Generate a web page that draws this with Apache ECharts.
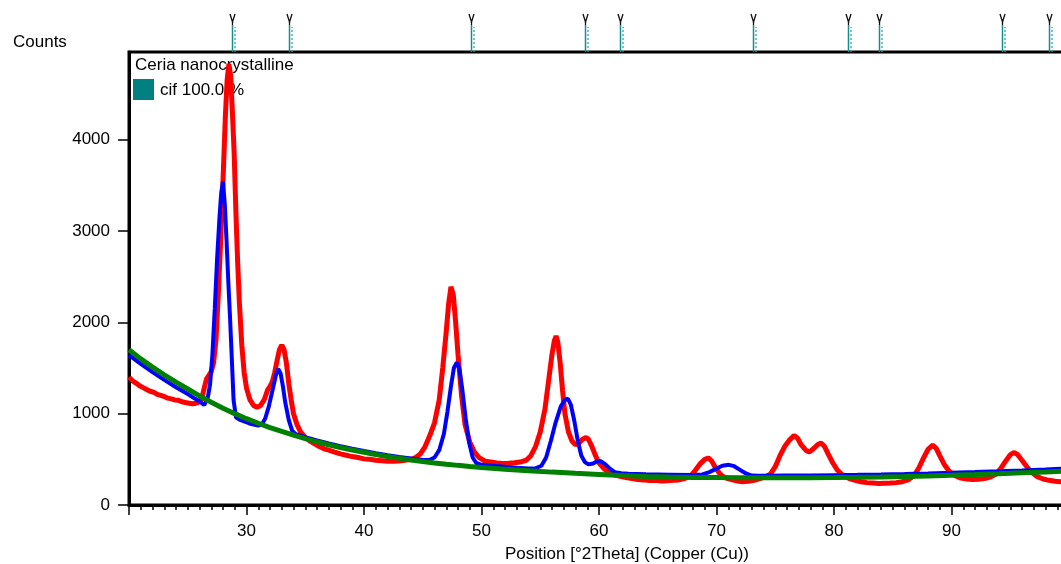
<!DOCTYPE html>
<html>
<head>
<meta charset="utf-8">
<script src="https://cdn.jsdelivr.net/npm/echarts@6/dist/echarts.min.js"></script>
<style>
html,body{margin:0;padding:0;background:#fff;}
#chart{width:1061px;height:564px;}
</style>
</head>
<body>
<div id="chart"></div>
<script>
// ---- data (2Theta, counts) ----
const observed = [
[20.0,1400],[20.3,1360],[20.6,1335],[20.9,1305],[21.2,1285],[21.5,1265],[21.8,1245],[22.1,1235],[22.4,1212],[22.7,1200],[23.0,1188],[23.3,1170],[23.6,1162],[23.9,1150],[24.2,1146],[24.5,1130],[24.8,1122],[25.1,1115],[25.4,1108],[25.7,1115],[26.0,1130],[26.2,1170],[26.4,1280],[26.6,1380],[26.8,1420],[27.0,1460],[27.2,1560],[27.4,1800],[27.6,2300],[27.8,2900],[28.0,3550],[28.2,4250],[28.35,4650],[28.5,4830],[28.65,4700],[28.8,4300],[28.95,3850],[29.1,3200],[29.25,2650],[29.4,2200],[29.6,1750],[29.8,1450],[30.0,1280],[30.3,1150],[30.6,1090],[30.9,1070],[31.2,1090],[31.5,1150],[31.8,1260],[32.0,1300],[32.2,1350],[32.4,1450],[32.6,1580],[32.8,1700],[33.0,1750],[33.2,1700],[33.4,1550],[33.6,1330],[33.8,1150],[34.0,1000],[34.3,880],[34.6,800],[35.0,740],[35.4,700],[35.8,670],[36.2,640],[36.6,615],[37.0,600],[37.5,580],[38.0,560],[38.5,545],[39.0,530],[39.5,520],[40.0,505],[40.5,500],[41.0,490],[41.5,485],[42.0,480],[42.5,478],[43.0,482],[43.5,490],[44.0,500],[44.4,520],[44.8,560],[45.2,640],[45.6,760],[46.0,900],[46.4,1150],[46.7,1500],[47.0,1900],[47.2,2200],[47.4,2390],[47.6,2300],[47.8,2000],[48.0,1650],[48.3,1200],[48.6,880],[49.0,690],[49.4,580],[49.8,520],[50.3,480],[50.8,470],[51.3,460],[51.8,455],[52.3,458],[52.8,462],[53.3,470],[53.8,490],[54.2,540],[54.6,640],[55.0,800],[55.4,1050],[55.7,1350],[56.0,1650],[56.2,1800],[56.35,1850],[56.5,1780],[56.7,1550],[56.9,1250],[57.1,1000],[57.4,800],[57.7,700],[58.0,660],[58.3,680],[58.6,720],[58.9,740],[59.1,720],[59.4,640],[59.7,540],[60.0,460],[60.4,400],[60.8,360],[61.3,330],[61.8,315],[62.3,300],[62.8,290],[63.3,280],[63.8,275],[64.3,268],[64.8,270],[65.3,262],[65.8,265],[66.3,270],[66.8,275],[67.3,290],[67.8,320],[68.2,380],[68.6,450],[69.0,500],[69.3,515],[69.6,480],[69.9,410],[70.3,340],[70.7,300],[71.2,280],[71.7,265],[72.2,255],[72.7,260],[73.2,270],[73.7,290],[74.2,310],[74.6,340],[75.0,420],[75.4,540],[75.8,640],[76.2,710],[76.6,760],[76.9,730],[77.2,660],[77.6,600],[77.9,580],[78.2,610],[78.6,660],[78.9,680],[79.2,640],[79.5,560],[79.9,460],[80.3,380],[80.8,320],[81.3,290],[81.8,270],[82.3,255],[82.8,245],[83.3,240],[83.8,235],[84.3,238],[84.8,240],[85.3,245],[85.8,255],[86.3,275],[86.8,320],[87.2,400],[87.6,510],[88.0,610],[88.4,655],[88.7,620],[89.0,540],[89.4,440],[89.8,370],[90.3,320],[90.8,295],[91.3,285],[91.8,280],[92.3,282],[92.8,290],[93.3,305],[93.8,340],[94.2,400],[94.6,480],[95.0,550],[95.3,575],[95.6,555],[96.0,490],[96.4,420],[96.8,360],[97.3,310],[97.8,285],[98.3,270],[98.8,260],[99.3,255],[100.0,250]
];
const calculated = [
[20.0,1640],[21.0,1545],[22.0,1455],[23.0,1370],[24.0,1290],[25.0,1215],[25.6,1165],[26.0,1135],[26.4,1095],[26.7,1170],[26.9,1320],[27.1,1650],[27.3,2150],[27.5,2700],[27.7,3150],[27.85,3420],[28.0,3540],[28.15,3300],[28.3,2900],[28.45,2450],[28.6,2050],[28.75,1600],[28.9,1150],[29.1,960],[29.4,935],[29.8,915],[30.2,895],[30.6,880],[31.0,870],[31.3,880],[31.6,950],[31.9,1080],[32.2,1250],[32.5,1420],[32.7,1490],[32.9,1440],[33.1,1300],[33.3,1120],[33.6,930],[33.9,810],[34.2,775],[35.0,742],[36.0,707],[37.0,675],[38.0,645],[39.0,617],[40.0,592],[41.0,568],[42.0,546],[43.0,526],[44.0,508],[45.0,492],[45.6,495],[46.0,520],[46.4,600],[46.8,780],[47.1,1020],[47.4,1300],[47.65,1500],[47.9,1560],[48.1,1500],[48.35,1280],[48.65,950],[48.95,680],[49.25,520],[49.55,460],[50.0,440],[51.0,430],[52.0,418],[53.0,408],[54.0,400],[54.6,402],[55.1,430],[55.5,520],[55.9,700],[56.3,900],[56.75,1080],[57.1,1150],[57.35,1165],[57.6,1100],[57.9,920],[58.2,700],[58.5,540],[58.8,470],[59.1,445],[59.5,455],[59.85,480],[60.15,480],[60.55,445],[60.95,395],[61.35,360],[61.9,348],[62.5,342],[64.0,336],[66.0,332],[68.0,328],[68.8,335],[69.4,360],[70.0,400],[70.5,430],[71.05,440],[71.5,425],[72.0,385],[72.5,345],[73.0,322],[73.6,320],[76.0,322],[78.0,324],[80.0,327],[82.0,330],[84.0,334],[86.0,339],[88.0,345],[90.0,352],[92.0,360],[94.0,369],[96.0,379],[98.0,390],[100.0,402]
];
const background = [
[20,1700],[21,1600],[22,1510],[23,1425],[24,1345],[25,1270],[26,1195],[27,1125],[28,1060],[29,1000],[30,945],[31,895],[32,848],[33,805],[34,765],[35,727],[36,692],[37,660],[38,630],[39,602],[40,577],[41,553],[42,531],[43,511],[44,493],[45,476],[46,461],[47,447],[48,434],[49,422],[50,411],[52,392],[54,376],[56,360],[58,347],[60,335],[62,322],[64,313],[66,306],[68,302],[70,300],[72,298],[74,297],[76,297],[78,298],[80,300],[82,303],[84,307],[86,312],[88,318],[90,325],[92,333],[94,342],[96,352],[98,362],[100,373]
];
const refPeaks = [28.8, 33.65, 49.1, 58.85, 61.82, 73.1, 81.2, 83.85, 94.3, 98.3];
const yTicks = [0, 1000, 2000, 3000, 4000];
const phaseName = 'Ceria nanocrystalline';
const phaseLabel = 'cif 100.0 %';

const FONT = '"Liberation Sans", Arial, sans-serif';
const chart = echarts.init(document.getElementById('chart'), null, {renderer: 'canvas'});

function markerItem(params, api) {
  const p = api.coord([api.value(0), 0]);
  const x = Math.round(p[0]) + 0.5, y = p[1];
  const teal = '#138c8c';
  return {
    type: 'group',
    children: [
      {type: 'line', shape: {x1: x, y1: y, x2: x, y2: y - 27}, style: {stroke: teal, lineWidth: 1.5}},
      {type: 'line', shape: {x1: x + 2.5, y1: y, x2: x + 2.5, y2: y - 25}, style: {stroke: '#2aa5a5', lineWidth: 1.3, lineDash: [2, 2]}},
      {type: 'polyline', shape: {points: [[x - 2.5, y - 38], [x, y - 30], [x + 2.5, y - 38]]}, style: {stroke: '#111', lineWidth: 1.3, fill: null}},
      {type: 'line', shape: {x1: x, y1: y - 30, x2: x, y2: y - 27}, style: {stroke: '#111', lineWidth: 1.3}}
    ]
  };
}

const option = {
  animation: false,
  backgroundColor: '#fff',
  grid: [
    {left: 129, width: 940, top: 52, bottom: 59, outerBoundsMode: 'none', containLabel: false, show: true, borderColor: '#000', borderWidth: 3},
    {left: 129, width: 940, top: 10, height: 42, outerBoundsMode: 'none', containLabel: false}
  ],
  xAxis: [
    {
      type: 'value', gridIndex: 0, min: 20, max: 100, interval: 10,
      axisLine: {show: true, lineStyle: {color: '#000', width: 3}},
      axisTick: {show: true, length: 10, lineStyle: {color: '#000', width: 1.5}},
      minorTick: {show: true, splitNumber: 10, length: 5, lineStyle: {color: '#000', width: 1.5}},
      splitLine: {show: false},
      axisLabel: {showMinLabel: false, showMaxLabel: false, color: '#000', fontSize: 17, fontFamily: FONT, margin: 18}
    },
    {type: 'value', gridIndex: 1, min: 20, max: 100, show: false}
  ],
  yAxis: [
    {
      type: 'value', gridIndex: 0, min: 0, max: 4960,
      axisLine: {show: true, lineStyle: {color: '#000', width: 3}},
      axisTick: {show: true, inside: false, length: 11, customValues: yTicks, lineStyle: {color: '#000', width: 1.5}},
      splitLine: {show: false},
      axisLabel: {customValues: yTicks, formatter: v => String(v), color: '#000', fontSize: 17, fontFamily: FONT, margin: 19}
    },
    {type: 'value', gridIndex: 1, min: 0, max: 1, show: false}
  ],
  graphic: [
    {type: 'text', left: 13, top: 34, z: 0, style: {text: 'Counts', font: '17px ' + FONT, fill: '#000'}},
    {type: 'text', left: 135, top: 57, z: 0, style: {text: phaseName, font: '17px ' + FONT, fill: '#000'}},
    {type: 'rect', left: 133, top: 79, z: 0, shape: {width: 21, height: 21}, style: {fill: '#008080'}},
    {type: 'text', left: 160, top: 82, z: 0, style: {text: phaseLabel, font: '17px ' + FONT, fill: '#000'}},
    {type: 'text', left: 505, top: 546, z: 0, style: {text: 'Position [°2Theta] (Copper (Cu))', font: '17px ' + FONT, fill: '#000'}}
  ],
  series: [
    {type: 'line', name: 'observed', xAxisIndex: 0, yAxisIndex: 0, data: observed, showSymbol: false, z: 2, lineStyle: {color: '#ff0000', width: 5}},
    {type: 'line', name: 'calculated', xAxisIndex: 0, yAxisIndex: 0, data: calculated, showSymbol: false, z: 3, lineStyle: {color: '#0000ff', width: 4}},
    {type: 'line', name: 'background', xAxisIndex: 0, yAxisIndex: 0, data: background, showSymbol: false, z: 4, lineStyle: {color: '#008000', width: 5}},
    {type: 'custom', name: 'reference', xAxisIndex: 1, yAxisIndex: 1, data: refPeaks.map(v => [v]), renderItem: markerItem, clip: false, z: 5}
  ]
};
chart.setOption(option);
</script>
</body>
</html>
